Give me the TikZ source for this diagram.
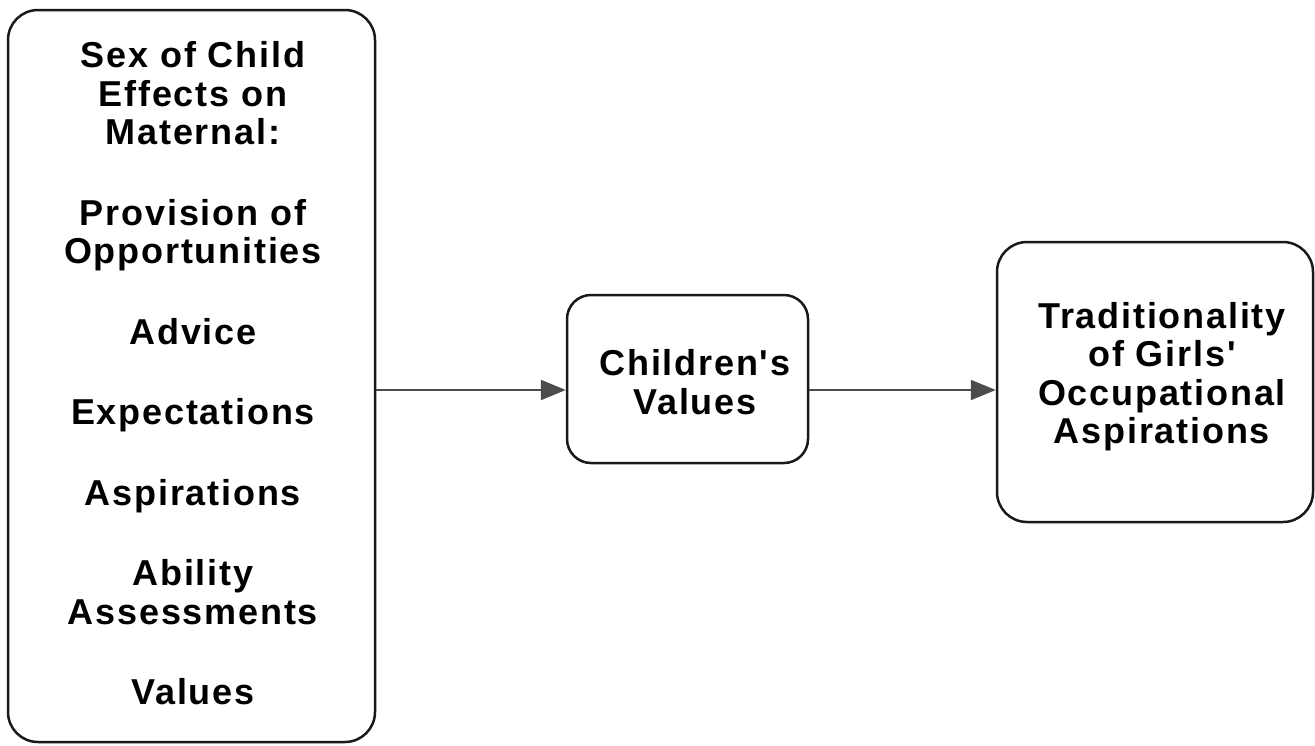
\documentclass[tikz,border=0pt]{standalone}
\usepackage{fontspec}
\newfontfamily\dfont[LetterSpace=5]{Liberation Sans}
\usetikzlibrary{arrows.meta}
\tikzset{
  box/.style={draw=black!90, line width=2.5pt, inner sep=0pt},
  txt/.style={align=center, inner sep=0pt, font=\dfont\bfseries\fontsize{36}{38.5}\selectfont},
  arr/.style={draw=black!70, line width=2.2pt, -{Triangle[length=25pt,width=20pt]}}
}
\begin{document}
\begin{tikzpicture}[x=1pt,y=-1pt]
\useasboundingbox (0,0) rectangle (1315,745);
% boxes
\node[box, rounded corners=30pt, minimum width=367pt, minimum height=732pt] (L) at (191.5,376) {};
\node[box, rounded corners=24pt, minimum width=241pt, minimum height=168pt] (M) at (687.5,379) {};
\node[box, rounded corners=30pt, minimum width=316pt, minimum height=280pt] (R) at (1155,382) {};
% texts
\node[txt] (Lt) at (193,373.5) {Sex of Child\\Effects on\\Maternal:\\[42pt]Provision of\\Opportunities\\[42pt]Advice\\[42pt]Expectations\\[42pt]Aspirations\\[42pt]Ability\\Assessments\\[42pt]Values};
\node[txt] (Mt) at (695,382) {Children's\\Values};
\node[txt] (Rt) at (1162,376.7) {Traditionality\\of Girls'\\Occupational\\Aspirations};
% connectors
\coordinate (ay) at (0,390);
\draw[arr] (L.east |- ay) -- (M.west |- ay);
\draw[arr] (M.east |- ay) -- (R.west |- ay);
\end{tikzpicture}
\end{document}
